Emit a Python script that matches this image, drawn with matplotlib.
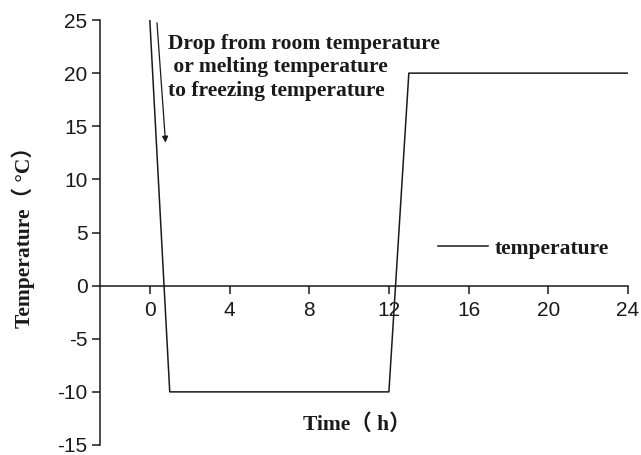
import matplotlib.pyplot as plt
from matplotlib.lines import Line2D

plt.rcParams['axes.unicode_minus'] = False

# time (h) and temperature (C)
time = [0, 1, 12, 13, 24]
temp = [25, -10, -10, 20, 20]

xticks = [0, 4, 8, 12, 16, 20, 24]
yticks = [-15, -10, -5, 0, 5, 10, 15, 20, 25]

serif = ['Liberation Serif', 'Noto Sans CJK SC']
fs = 15.5

fig = plt.figure(figsize=(6.41, 4.55), dpi=100)
ax = fig.add_axes([100 / 641, 10 / 455, 528 / 641, 425 / 455])

ax.plot(time, temp, color='#1a1a1a', lw=1.1)

ax.set_xlim(-2.5, 24)
ax.set_ylim(-15, 25)
ax.set_xticks(xticks)
ax.set_yticks(yticks)

ax.spines['top'].set_visible(False)
ax.spines['right'].set_visible(False)
ax.spines['bottom'].set_position(('data', 0))
for s in ('left', 'bottom'):
    ax.spines[s].set_color('#1a1a1a')
    ax.spines[s].set_linewidth(1.1)

ax.tick_params(direction='out', length=6, width=1.1, color='#1a1a1a',
               labelsize=15, labelcolor='#1a1a1a')
ax.tick_params(axis='x', pad=5)
ax.tick_params(axis='y', pad=3)
for lab in ax.get_xticklabels() + ax.get_yticklabels():
    lab.set_family('Liberation Sans')

ax.set_ylabel('Temperature（ °C）', family=serif, fontweight='bold',
              fontsize=fs, labelpad=16, color='#1a1a1a')

ax.text(10.4, -13.1, 'Time（ h）', family=serif, fontweight='bold',
        fontsize=fs, ha='center', va='center', color='#1a1a1a')

# arrow beside the falling line
ax.annotate('', xy=(0.8, 13.2), xytext=(0.35, 25),
            arrowprops=dict(arrowstyle='-|>', color='#1a1a1a', lw=0.9,
                            mutation_scale=9))

ax.text(0.9, 23.7, 'Drop from room temperature\n or melting temperature\nto freezing temperature',
        family=serif, fontweight='bold', fontsize=fs, ha='left', va='top',
        linespacing=1.23, color='#1a1a1a')

handle = Line2D([], [], color='#1a1a1a', lw=1.1)
leg = ax.legend([handle], ['temperature'], frameon=False,
                loc='center left', bbox_to_anchor=(0.604, 0.462),
                handlelength=2.3, handletextpad=0.33,
                prop={'family': 'Liberation Serif', 'weight': 'bold', 'size': fs})
for t in leg.get_texts():
    t.set_color('#1a1a1a')

fig.savefig('out.png', dpi=100)
